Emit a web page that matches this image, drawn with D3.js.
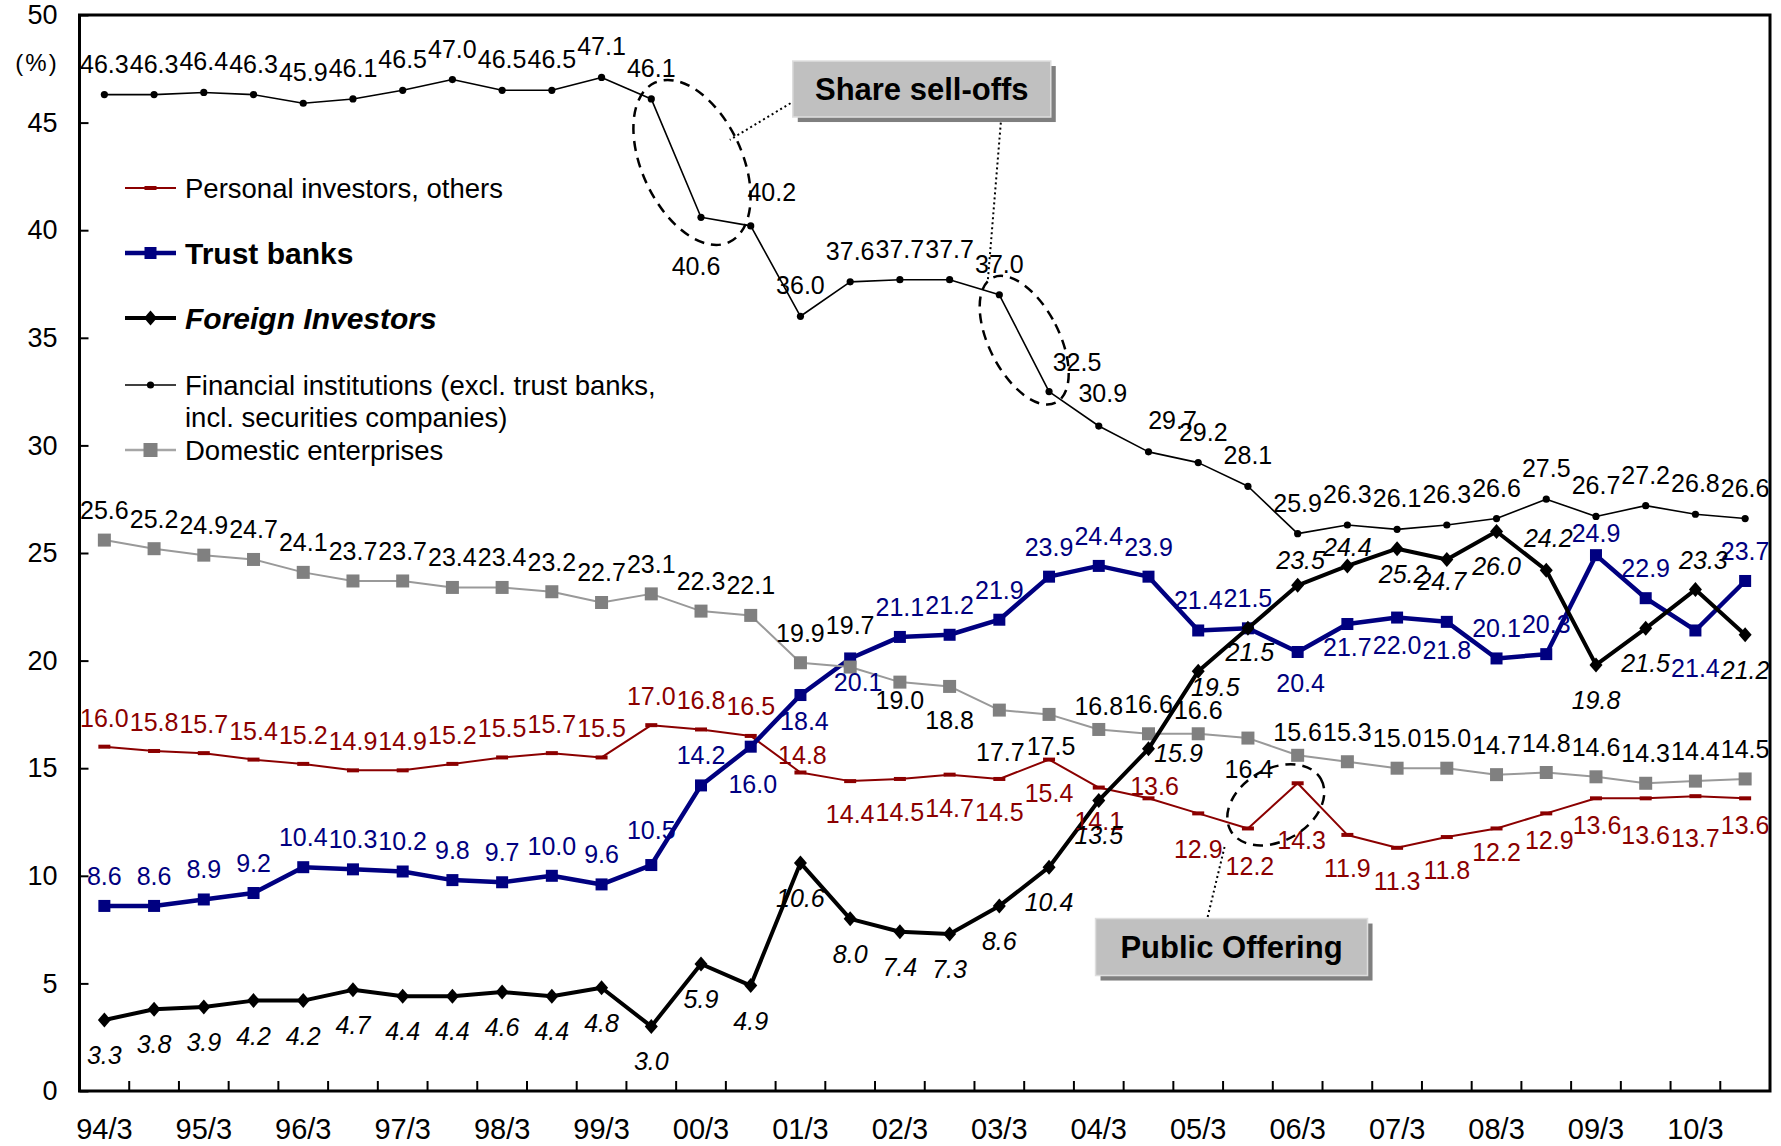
<!DOCTYPE html>
<html><head><meta charset="utf-8">
<script src="https://cdn.jsdelivr.net/npm/d3@7"></script>
<style>
html,body{margin:0;padding:0;background:#fff;}
svg{display:block;font-family:"Liberation Sans",Arial,sans-serif;}
</style></head><body>
<svg id="chart" width="1781" height="1146"></svg>
<script>
// ---------- data ----------
const categories = ["94/3","94/9","95/3","95/9","96/3","96/9","97/3","97/9","98/3","98/9","99/3","99/9",
  "00/3","00/9","01/3","01/9","02/3","02/9","03/3","03/9","04/3","04/9","05/3","05/9","06/3","06/9",
  "07/3","07/9","08/3","08/9","09/3","09/9","10/3","10/9"];
const tickLabels = ["94/3","95/3","96/3","97/3","98/3","99/3","00/3","01/3","02/3","03/3","04/3","05/3","06/3","07/3","08/3","09/3","10/3"];
const yTicks = [0,5,10,15,20,25,30,35,40,45,50];

const personal = [16.0,15.8,15.7,15.4,15.2,14.9,14.9,15.2,15.5,15.7,15.5,17.0,16.8,16.5,14.8,14.4,14.5,14.7,14.5,15.4,14.1,13.6,12.9,12.2,14.3,11.9,11.3,11.8,12.2,12.9,13.6,13.6,13.7,13.6];
const trustBanks = [8.6,8.6,8.9,9.2,10.4,10.3,10.2,9.8,9.7,10.0,9.6,10.5,14.2,16.0,18.4,20.1,21.1,21.2,21.9,23.9,24.4,23.9,21.4,21.5,20.4,21.7,22.0,21.8,20.1,20.3,24.9,22.9,21.4,23.7];
const foreign = [3.3,3.8,3.9,4.2,4.2,4.7,4.4,4.4,4.6,4.4,4.8,3.0,5.9,4.9,10.6,8.0,7.4,7.3,8.6,10.4,13.5,15.9,19.5,21.5,23.5,24.4,25.2,24.7,26.0,24.2,19.8,21.5,23.3,21.2];
const financial = [46.3,46.3,46.4,46.3,45.9,46.1,46.5,47.0,46.5,46.5,47.1,46.1,40.6,40.2,36.0,37.6,37.7,37.7,37.0,32.5,30.9,29.7,29.2,28.1,25.9,26.3,26.1,26.3,26.6,27.5,26.7,27.2,26.8,26.6];
const domestic = [25.6,25.2,24.9,24.7,24.1,23.7,23.7,23.4,23.4,23.2,22.7,23.1,22.3,22.1,19.9,19.7,19.0,18.8,17.7,17.5,16.8,16.6,16.6,16.4,15.6,15.3,15.0,15.0,14.7,14.8,14.6,14.3,14.4,14.5];

const legendNames = ["Personal investors, others","Trust banks","Foreign Investors",
  "Financial institutions (excl. trust banks,","incl. securities companies)","Domestic enterprises"];
const annotationTexts = ["Share sell-offs","Public Offering"];

// ---------- layout (label placement, offsets in px) ----------
const labelDefault = {personal:[0,33], trust:[0,-30], domestic:[0,-30], financial:[0,-31], foreign:[0,35]};
const labelAdjust = {
  personal:{0:[0,-29],1:[0,-29],2:[0,-29],3:[0,-29],4:[0,-29],5:[0,-29],6:[0,-29],7:[0,-29],8:[0,-29],9:[0,-29],
            10:[0,-29],11:[0,-29],12:[0,-29],13:[0,-30],14:[2,-18],21:[6,-12],22:[0,36],23:[2,38],24:[4,57],
            28:[0,24],29:[3,27],30:[1,27],31:[0,37],32:[0,42],33:[0,27]},
  trust:{11:[0,-35],13:[2,37],14:[4,26],15:[8,24],24:[3,31],25:[0,23],26:[0,27],27:[0,28],30:[0,-22],32:[0,38]},
  domestic:{15:[0,-42],16:[0,18],17:[0,34],18:[1,42],19:[2,32],20:[0,-23],22:[0,-24],23:[1,31],24:[0,-23]},
  financial:{12:[-5,49],13:[21,-34],19:[28,-30],20:[4,-33],21:[24,-32],22:[5,-31]},
  foreign:{21:[30,4],22:[17,16],23:[2,24],24:[3,-25],25:[0,-19],26:[6,25],27:[-5,22],29:[2,-32],32:[8,-30]}
};

// ---------- chart ----------
const svg = d3.select("#chart");
const plot = {left:79.5, right:1770, top:15, bottom:1091};
const x = d3.scaleBand().domain(categories).range([plot.left, plot.right]);
const cx = i => x(categories[i]) + x.bandwidth()/2;
const xi = idx => plot.left + x.step()*(idx + 0.5);
const y = d3.scaleLinear().domain([0,50]).range([plot.bottom, plot.top]);

// axes
const yAxis = svg.append("g").attr("transform",`translate(${plot.left},0)`)
  .call(d3.axisLeft(y).tickValues(yTicks).tickSize(-9).tickPadding(22));
yAxis.select(".domain").remove();
yAxis.selectAll("line").attr("stroke","#000").attr("stroke-width",2);
yAxis.selectAll("text").attr("font-size",27).attr("font-family","Liberation Sans, Arial, sans-serif").attr("fill","#000");

svg.append("text").attr("x",37).attr("y",y(47.77)).attr("dy","0.35em").attr("text-anchor","middle")
  .attr("font-size",24).attr("letter-spacing",2).text("(%)");

const xAxis = svg.append("g").attr("transform",`translate(0,${plot.bottom})`)
  .call(d3.axisBottom(x).tickValues(tickLabels).tickSize(0).tickPadding(27));
xAxis.select(".domain").remove();
xAxis.selectAll("text").attr("font-size",29).attr("font-family","Liberation Sans, Arial, sans-serif").attr("fill","#000");

// band tick marks (inside)
svg.append("g").selectAll("line").data(categories.slice(1)).join("line")
  .attr("x1",d=>x(d)).attr("x2",d=>x(d)).attr("y1",plot.bottom).attr("y2",plot.bottom-10)
  .attr("stroke","#000").attr("stroke-width",2);

// frame
svg.append("rect").attr("x",plot.left).attr("y",plot.top)
  .attr("width",plot.right-plot.left).attr("height",plot.bottom-plot.top)
  .attr("fill","none").attr("stroke","#000").attr("stroke-width",3);

// series
const series = [
  {key:"personal", values:personal, line:"#8B0000", width:2, marker:"dash", mcolor:"#8B0000", lcolor:"#8B0000", style:"normal"},
  {key:"trust", values:trustBanks, line:"#000080", width:4.5, marker:"square", msize:12, mcolor:"#000080", lcolor:"#000080", style:"normal"},
  {key:"domestic", values:domestic, line:"#999999", width:2, marker:"square", msize:13, mcolor:"#808080", lcolor:"#000", style:"normal"},
  {key:"financial", values:financial, line:"#000", width:1.6, marker:"dot", mcolor:"#000", lcolor:"#000", style:"normal"},
  {key:"foreign", values:foreign, line:"#000", width:4, marker:"diamond", mcolor:"#000", lcolor:"#000", style:"italic"}
];

const lineGen = d3.line().x((d,i)=>cx(i)).y(d=>y(d));
const diamondPath = "M0,-7.5L6.5,0L0,7.5L-6.5,0Z";

function drawMarker(g, type, color, size){
  if(type==="dash") g.append("rect").attr("x",-6).attr("y",-2).attr("width",12).attr("height",4).attr("fill",color);
  else if(type==="square") g.append("rect").attr("x",-size/2).attr("y",-size/2).attr("width",size).attr("height",size).attr("fill",color);
  else if(type==="dot") g.append("circle").attr("r",3.6).attr("fill",color);
  else if(type==="diamond") g.append("path").attr("d",diamondPath).attr("fill",color);
}

series.forEach(s=>{
  const g = svg.append("g").attr("class","series-"+s.key);
  g.append("path").datum(s.values).attr("d",lineGen).attr("fill","none")
    .attr("stroke",s.line).attr("stroke-width",s.width).attr("stroke-linejoin","round");
  g.selectAll("g.m").data(s.values).join("g").attr("class","m")
    .attr("transform",(d,i)=>`translate(${cx(i)},${y(d)})`)
    .each(function(){ drawMarker(d3.select(this), s.marker, s.mcolor, s.msize); });
});

// data labels (drawn last, on top)
series.forEach(s=>{
  const def = labelDefault[s.key], adj = labelAdjust[s.key];
  svg.append("g").selectAll("text").data(s.values).join("text")
    .attr("x",(d,i)=>cx(i)+(adj[i]?adj[i][0]:def[0]))
    .attr("y",(d,i)=>y(d)+(adj[i]?adj[i][1]:def[1]))
    .attr("dy","0.36em").attr("text-anchor","middle").attr("font-size",25)
    .attr("font-style",s.style).attr("fill",s.lcolor)
    .text(d=>d.toFixed(1));
});

// legend
const legendItems = [
  {name:legendNames[0], line:"#8B0000", width:2, marker:"dash", mcolor:"#8B0000", weight:"normal", style:"normal", size:27.5, y:188},
  {name:legendNames[1], line:"#000080", width:4.5, marker:"square", msize:12, mcolor:"#000080", weight:"bold", style:"normal", size:30, y:253},
  {name:legendNames[2], line:"#000", width:4, marker:"diamond", mcolor:"#000", weight:"bold", style:"italic", size:30, y:318},
  {name:legendNames[3], line:"#000", width:1.6, marker:"dot", mcolor:"#000", weight:"normal", style:"normal", size:27.5, y:385, extra:legendNames[4]},
  {name:legendNames[5], line:"#a6a6a6", width:2.5, marker:"square", msize:14, mcolor:"#808080", weight:"normal", style:"normal", size:27.5, y:450}
];
const lg = svg.append("g");
legendItems.forEach(it=>{
  lg.append("line").attr("x1",125).attr("x2",176).attr("y1",it.y).attr("y2",it.y)
    .attr("stroke",it.line).attr("stroke-width",it.width);
  drawMarker(lg.append("g").attr("transform",`translate(150.5,${it.y})`), it.marker, it.mcolor, it.msize);
  lg.append("text").attr("x",185).attr("y",it.y).attr("dy","0.36em").attr("font-size",it.size)
    .attr("font-weight",it.weight).attr("font-style",it.style).text(it.name);
  if(it.extra) lg.append("text").attr("x",185).attr("y",it.y+32).attr("dy","0.36em").attr("font-size",it.size).text(it.extra);
});

// annotations: dashed ellipses around points
const ellipses = [
  {values:financial, from:11, to:13, rx:50, ry:88, rot:-25, dx:-9, dy:0},
  {values:financial, from:18, to:19, rx:35, ry:70, rot:-27, dx:0, dy:-3},
  {values:personal, from:23, to:24, rx:52, ry:36, rot:-30, dx:3, dy:-1}
];
ellipses.forEach(e=>{
  const ex = (cx(e.from)+cx(e.to))/2 + e.dx;
  const ey = (y(e.values[e.from])+y(e.values[e.to]))/2 + e.dy;
  svg.append("ellipse").attr("cx",0).attr("cy",0).attr("rx",e.rx).attr("ry",e.ry)
    .attr("transform",`translate(${ex},${ey}) rotate(${e.rot})`)
    .attr("fill","none").attr("stroke","#000").attr("stroke-width",2.5).attr("stroke-dasharray","10,7");
});

// leader lines (data units: [band index, value])
const leaders = [
  [[13.8,45.9],[12.58,44.2]],
  [[18.03,45.0],[17.77,37.7]],
  [[22.19,8.09],[22.53,11.34]]
];
leaders.forEach(l=>{
  svg.append("line").attr("x1",xi(l[0][0])).attr("y1",y(l[0][1])).attr("x2",xi(l[1][0])).attr("y2",y(l[1][1]))
    .attr("stroke","#000").attr("stroke-width",2).attr("stroke-dasharray","2,3");
});

// boxes
const boxes = [
  {text:annotationTexts[0], idx:16.44, val:46.56, w:258, h:56},
  {text:annotationTexts[1], idx:22.67, val:6.69, w:272, h:57}
];
boxes.forEach(b=>{
  const bx = xi(b.idx)-b.w/2, by = y(b.val)-b.h/2;
  svg.append("rect").attr("x",bx+5).attr("y",by+5).attr("width",b.w).attr("height",b.h).attr("fill","#7f7f7f");
  svg.append("rect").attr("x",bx).attr("y",by).attr("width",b.w).attr("height",b.h)
    .attr("fill","#c0c0c0").attr("stroke","#dedede").attr("stroke-width",1.5);
  svg.append("text").attr("x",xi(b.idx)).attr("y",y(b.val)).attr("dy","0.36em").attr("text-anchor","middle")
    .attr("font-size",31).attr("font-weight","bold").text(b.text);
});
</script>
</body></html>
